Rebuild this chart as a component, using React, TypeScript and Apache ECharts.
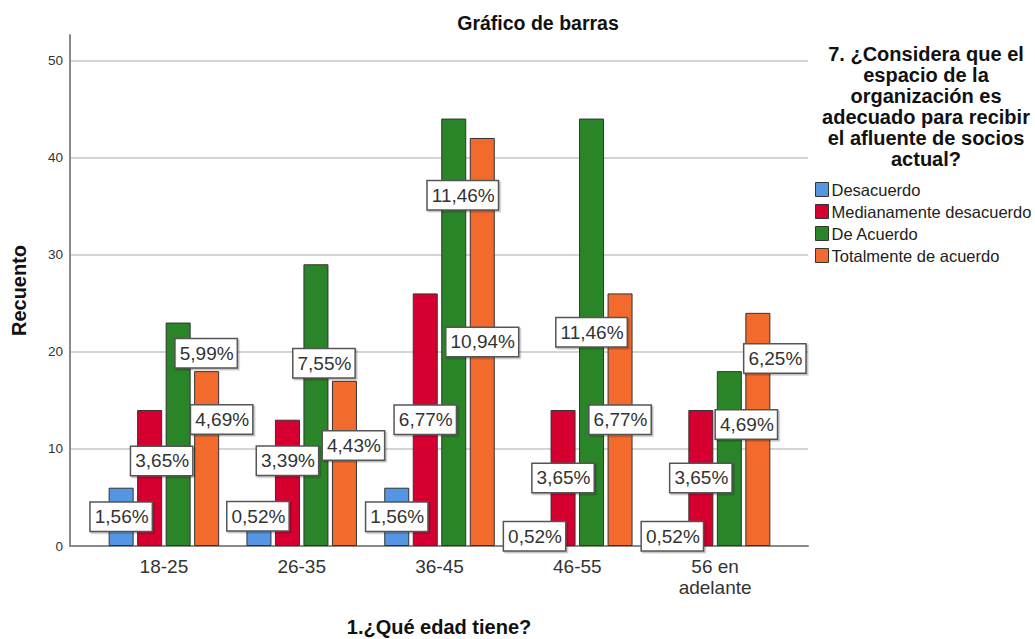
import React, { useEffect, useRef } from "react";
import * as echarts from "echarts";

const categories = ["18-25", "26-35", "36-45", "46-55", "56 en\nadelante"];
const seriesNames = ["Desacuerdo", "Medianamente desacuerdo", "De Acuerdo", "Totalmente de acuerdo"];
const desacuerdo = [6, 2, 6, 2, 2];
const medianamente = [14, 13, 26, 14, 14];
const deAcuerdo = [23, 29, 44, 44, 18];
const totalmente = [18, 17, 42, 26, 24];
const yTicks = [0, 10, 20, 30, 40, 50];

const colors = ["#5596E2", "#D5002F", "#2A8428", "#F26A2C"];
// label nudges (px) relative to the bar's inside-centre, mimicking SPSS collision avoidance
const labelShift = [
  [[0, 0], [-1, -20], [0, 0], [0, 0], [0, 0]],
  [[12, -17], [0, -22], [0, 0], [0, 0], [0, 0]],
  [[28, -81], [8, -42], [9, -137], [0, 0], [17, -34]],
  [[15, -39], [9, -18], [0, 0], [0, 0], [17, -71]],
];

const FONT = "'Liberation Sans', Arial, sans-serif";

export default function App() {
  const ref = useRef<HTMLDivElement>(null);
  useEffect(() => {
    if (!ref.current) return;
    const chart = echarts.init(ref.current, undefined, { renderer: "svg" });
    const all = [desacuerdo, medianamente, deAcuerdo, totalmente];
    const total = all.reduce((s, arr) => s + arr.reduce((a, b) => a + b, 0), 0);
    const yMax = 52.6;
    const series = all.map((arr, si) => ({
      name: seriesNames[si],
      type: "bar",
      xAxisIndex: 1,
      yAxisIndex: 1,
      barWidth: 25,
      barGap: "14%",
      itemStyle: { color: colors[si], borderColor: "#333", borderWidth: 1 },
      data: arr.map((v, ci) => ({
        value: v,
        label: { offset: labelShift[si][ci] },
      })),
      label: {
        show: true,
        position: "inside",
        formatter: (p: any) => ((p.value / total) * 100).toFixed(2).replace(".", ",") + "%",
        fontFamily: FONT,
        fontSize: 19,
        color: "#333",
        backgroundColor: "#fff",
        borderColor: "#555",
        borderWidth: 1.5,
        padding: [5, 3, 4, 4],
        shadowColor: "rgba(0,0,0,0.25)",
        shadowOffsetX: 1.5,
        shadowOffsetY: 1.5,
        shadowBlur: 0,
      },
    }));
    chart.setOption({
      animation: false,
      backgroundColor: "#fff",
      title: [
        {
          text: "Gráfico de barras",
          left: 533,
          top: 8,
          textAlign: "center",
          textStyle: { fontFamily: FONT, fontSize: 19.5, fontWeight: "bold", color: "#111" },
        },
        {
          text: "7. ¿Considera que el\nespacio de la\norganización es\nadecuado para recibir\nel afluente de socios\nactual?",
          left: 921,
          top: 38,
          textAlign: "center",
          textStyle: { fontFamily: FONT, fontSize: 20, fontWeight: "bold", color: "#111", lineHeight: 21, align: "center" },
        },
      ],
      legend: {
        orient: "vertical",
        left: 810,
        top: 176,
        itemWidth: 13,
        itemHeight: 14,
        itemGap: 5,
        icon: "rect",
        itemStyle: { borderColor: "#333", borderWidth: 1 },
        textStyle: { fontFamily: FONT, fontSize: 16.5, color: "#222", lineHeight: 16, padding: [0, 0, 0, -2] },
        data: seriesNames,
      },
      grid: [
        { left: 70, right: 227, top: 35, bottom: 93, outerBoundsMode: "none", containLabel: false },
        { left: 95, right: 251, top: 35, bottom: 93, outerBoundsMode: "none", containLabel: false },
      ],
      xAxis: [
        {
          type: "value",
          gridIndex: 0,
          min: 0,
          max: 1,
          axisLine: { show: true, onZero: false, lineStyle: { color: "#8a8a8a", width: 2 } },
          axisTick: { show: false },
          axisLabel: { show: false },
          splitLine: { show: false },
          name: "1.¿Qué edad tiene?",
          nameLocation: "middle",
          nameGap: 71,
          nameTextStyle: { fontFamily: FONT, fontSize: 20, fontWeight: "bold", color: "#111" },
        },
        {
          type: "category",
          gridIndex: 1,
          data: categories,
          axisLine: { show: false },
          axisTick: { show: false },
          axisLabel: { fontFamily: FONT, fontSize: 19, color: "#333", margin: 10, lineHeight: 21 },
        },
      ],
      yAxis: [
        {
          type: "value",
          gridIndex: 0,
          min: 0,
          max: yMax,
          interval: 10,
          axisLine: { show: true, lineStyle: { color: "#8a8a8a", width: 2 } },
          axisTick: { show: false },
          axisLabel: {
            fontFamily: FONT,
            fontSize: 13.5,
            color: "#333",
            margin: 7,
            showMaxLabel: false,
            formatter: (v: number) => (yTicks.includes(v) ? String(v) : ""),
          },
          splitLine: { show: true, showMinLine: false, showMaxLine: false, lineStyle: { color: "#d4d4d4", width: 2 } },
          name: "Recuento",
          nameLocation: "middle",
          nameRotate: 90,
          nameGap: 41,
          nameTextStyle: { fontFamily: FONT, fontSize: 20, fontWeight: "bold", color: "#111" },
        },
        {
          type: "value",
          gridIndex: 1,
          min: 0,
          max: yMax,
          show: false,
          splitLine: { show: false },
        },
      ],
      series,
    });
    return () => chart.dispose();
  }, []);
  return <div ref={ref} style={{ width: 1035, height: 639, position: "absolute", left: 0, top: 0 }} />;
}
